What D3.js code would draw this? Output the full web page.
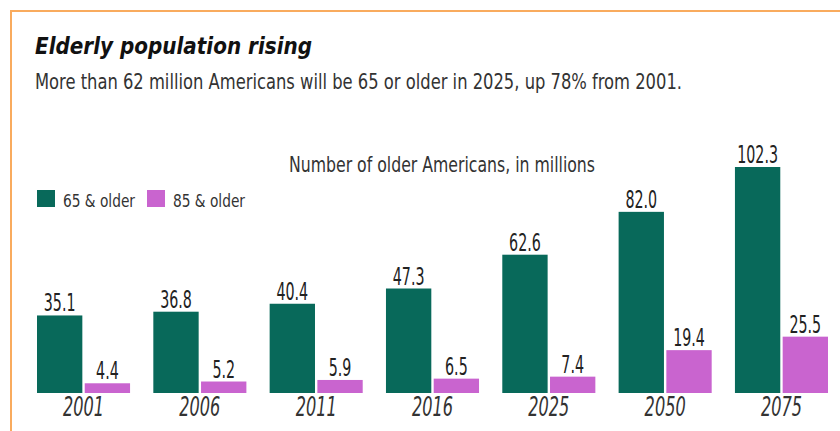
<!DOCTYPE html>
<html>
<head>
<meta charset="utf-8">
<script src="https://cdn.jsdelivr.net/npm/d3@7"></script>
<style>
  body { margin: 0; background: #fff; }
  svg { display: block; }
  text { font-family: "Liberation Sans Narrow", "DejaVu Sans Condensed", "Roboto Condensed", sans-serif; }
</style>
</head>
<body>
<div id="chart"></div>
<script>
// Data
const years = ["2001", "2006", "2011", "2016", "2025", "2050", "2075"];
const series = ["65 & older", "85 & older"];
const olderThan65 = [35.1, 36.8, 40.4, 47.3, 62.6, 82.0, 102.3];
const olderThan85 = [4.4, 5.2, 5.9, 6.5, 7.4, 19.4, 25.5];
const colors = ["#08695a", "#c964cf"];

const width = 840;
const height = 431;

const svg = d3.select("#chart")
    .append("svg")
    .attr("width", width)
    .attr("height", height);

// Oranje kader (boven en links)
svg.append("line")
    .attr("x1", 10).attr("x2", width)
    .attr("y1", 11).attr("y2", 11)
    .attr("stroke", "#f9ab5e").attr("stroke-width", 2);
svg.append("line")
    .attr("x1", 11).attr("x2", 11)
    .attr("y1", 10).attr("y2", height)
    .attr("stroke", "#f9ab5e").attr("stroke-width", 2);

// Titels
svg.append("text")
    .attr("x", 35).attr("y", 54)
    .style("font-family", "'DejaVu Sans', sans-serif")
    .attr("font-size", 23)
    .attr("font-weight", "bold")
    .attr("font-style", "italic")
    .attr("fill", "#111")
    .attr("textLength", 277)
    .attr("lengthAdjust", "spacingAndGlyphs")
    .text("Elderly population rising");

svg.append("text")
    .attr("x", 35).attr("y", 89)
    .attr("font-size", 21)
    .attr("fill", "#333")
    .attr("textLength", 647)
    .attr("lengthAdjust", "spacingAndGlyphs")
    .text("More than 62 million Americans will be 65 or older in 2025, up 78% from 2001.");

svg.append("text")
    .attr("x", 442).attr("y", 172)
    .attr("text-anchor", "middle")
    .attr("font-size", 22)
    .attr("fill", "#333")
    .attr("textLength", 306)
    .attr("lengthAdjust", "spacingAndGlyphs")
    .text("Number of older Americans, in millions");

// Legenda
const legendX = [37, 147];
const legend = svg.append("g");
series.forEach((s, i) => {
    legend.append("rect")
        .attr("x", legendX[i]).attr("y", 190)
        .attr("width", 18).attr("height", 17)
        .attr("fill", colors[i]);
    legend.append("text")
        .attr("x", legendX[i] + 26).attr("y", 207)
        .attr("font-size", 18)
        .attr("fill", "#333")
        .attr("textLength", 72)
        .attr("lengthAdjust", "spacingAndGlyphs")
        .text(s);
});

// Schalen
const x0 = d3.scaleBand()
    .domain(years)
    .range([37, 828])
    .paddingInner(0.2)
    .paddingOuter(0);

const x1 = d3.scaleBand()
    .domain(series)
    .range([0, x0.bandwidth()])
    .paddingInner(0.05);

const y = d3.scaleLinear()
    .domain([0, 102.3])
    .range([393, 167]);

const rows = years.map((yr, i) => ({
    year: yr,
    values: [
        { key: series[0], value: olderThan65[i], color: colors[0] },
        { key: series[1], value: olderThan85[i], color: colors[1] }
    ]
}));

const groups = svg.selectAll(".group")
    .data(rows)
    .enter()
    .append("g")
    .attr("class", "group")
    .attr("transform", d => `translate(${x0(d.year)},0)`);

groups.selectAll("rect")
    .data(d => d.values)
    .enter()
    .append("rect")
    .attr("x", d => x1(d.key))
    .attr("y", d => y(d.value))
    .attr("width", x1.bandwidth())
    .attr("height", d => y(0) - y(d.value))
    .attr("fill", d => d.color);

// Waardelabels, smal gemaakt
groups.selectAll(".val")
    .data(d => d.values)
    .enter()
    .append("text")
    .attr("class", "val")
    .attr("transform", d => `translate(${x1(d.key) + x1.bandwidth() / 2},${y(d.value) - 4}) scale(0.66,1)`)
    .attr("text-anchor", "middle")
    .attr("font-size", 24)
    .attr("fill", "#222")
    .text(d => d.value.toFixed(1));

// X-as labels
const xAxis = svg.append("g")
    .attr("transform", `translate(0,${y(0)})`)
    .call(d3.axisBottom(x0).tickSize(0).tickPadding(0));
xAxis.select(".domain").remove();
xAxis.selectAll(".tick text")
    .attr("dy", 0)
    .attr("y", 0)
    .attr("transform", "translate(0,23) scale(0.69,1)")
    .attr("font-size", 26)
    .attr("font-style", "italic")
    .attr("fill", "#333")
    .style("font-family", "'Liberation Sans Narrow', 'DejaVu Sans Condensed', sans-serif");
</script>
</body>
</html>
